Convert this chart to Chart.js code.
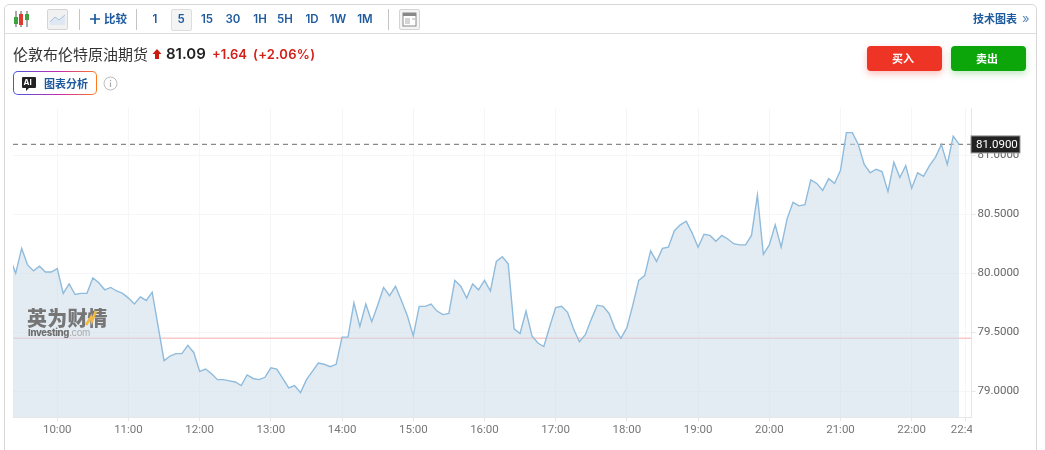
<!DOCTYPE html>
<html>
<head>
<meta charset="utf-8">
<title>伦敦布伦特原油期货</title>
<script src="https://cdn.jsdelivr.net/npm/chart.js"></script>
<style>
	html, body { margin: 0; padding: 0; background: #fff; overflow: hidden; }
	body { width: 1045px; height: 450px; position: relative; font-family: "Noto Sans CJK SC", Inter, sans-serif; }
	#chartBox { position: absolute; left: 0; top: 0; width: 1045px; height: 450px; }
	.panel { position: absolute; left: 4px; top: 4px; width: 1031px; height: 460px; border: 1px solid #d8d8d8; border-radius: 5px; pointer-events: none; }
	.abs { position: absolute; white-space: nowrap; }
	.sep { position: absolute; top: 9px; width: 1px; height: 21px; background: #c4c4c4; }
	.hline { position: absolute; left: 5px; top: 33px; width: 1031px; height: 1px; background: #dcdcdc; }
	.tf { position: absolute; top: 11px; font: 600 11.5px Inter, sans-serif; color: #1d5a9e; transform: translateX(-50%); line-height: 16px; }
	.tfbox { position: absolute; left: 171px; top: 9px; width: 19px; height: 20px; background: #f4f4f4; border: 1px solid #ddd; border-radius: 2px; }
	.iconbox { position: absolute; top: 9px; width: 19px; height: 19px; background: #f1f1f1; border: 1px solid #d4d4d4; border-radius: 2px; }
	.btn { position: absolute; top: 46px; width: 75px; height: 25px; box-sizing: border-box; padding-right: 3px; border-radius: 4px; color: #fff; font-size: 11px; font-weight: 700; text-align: center; line-height: 25px; }
	.ai { position: absolute; left: 13px; top: 71px; width: 84px; height: 24px; box-sizing: border-box; border-radius: 5px; padding: 1px; background: linear-gradient(90deg, #4a55e0, #c42bb0 55%, #ff7a1a); }
	.ai div { width: 100%; height: 100%; background: #fff; border-radius: 4px; }
</style>
</head>
<body>
<div id="chartBox"><canvas id="priceChart" width="1045" height="450"></canvas></div>

<div class="abs" style="left:27px;top:306px;font:900 20px/23px 'Noto Sans CJK SC';color:#6a6a6a;opacity:.9;letter-spacing:.2px;filter:blur(.4px)">英为财情</div>
<div class="abs" style="left:28px;top:327px;font:800 9.5px/11px Inter;color:#6e6e6e;letter-spacing:-.3px;filter:blur(.3px)">Investing<span style="font-weight:400;color:#aaa">.com</span></div>
<svg class="abs" style="left:84px;top:309px" width="14" height="18"><path d="M2 16 L7 8 L8 12 L12 2" fill="none" stroke="#f0b840" stroke-width="2.6"/></svg>

<div class="panel"></div>
<div class="hline"></div>

<svg class="abs" style="left:13px;top:9px" width="20" height="20">
	<path d="M3 2V18M8 2V18M14 2V18" stroke="#555" stroke-width="1"/>
	<rect x="1" y="8" width="4" height="7" fill="#3da33d"/>
	<rect x="6" y="5" width="4" height="11" fill="#e03a2e"/>
	<rect x="12" y="5" width="4" height="6" fill="#3da33d"/>
</svg>
<div class="iconbox" style="left:47px"><svg width="19" height="19"><path d="M2 15 L2 12 L7 7 L11 10 L17 5 L17 15Z" fill="#dfe8f2"/><path d="M2 12 L7 7 L11 10 L17 5" fill="none" stroke="#a9c4de" stroke-width="1"/></svg></div>
<div class="sep" style="left:79px"></div>
<svg class="abs" style="left:89px;top:13px" width="12" height="12"><path d="M6 1V11M1 6H11" stroke="#1d5a9e" stroke-width="1.7"/></svg>
<div class="abs" style="left:104px;top:10px;font-size:11.5px;font-weight:700;color:#1d5a9e;line-height:17px">比较</div>
<div class="sep" style="left:136px"></div>
<div class="tfbox"></div>
<div class="tf" style="left:155px">1</div>
<div class="tf" style="left:181px">5</div>
<div class="tf" style="left:207px">15</div>
<div class="tf" style="left:233px">30</div>
<div class="tf" style="left:260px">1H</div>
<div class="tf" style="left:285px">5H</div>
<div class="tf" style="left:312px">1D</div>
<div class="tf" style="left:338px">1W</div>
<div class="tf" style="left:365px">1M</div>
<div class="sep" style="left:388px"></div>
<div class="iconbox" style="left:399px;background:#f4f4f4"><svg width="19" height="19"><rect x="3" y="3" width="13" height="13" fill="#fff" stroke="#888"/><rect x="3" y="3" width="13" height="3" fill="#888"/><path d="M5 9H10M5 11H10M5 13H10M12 9H15" stroke="#aaa"/></svg></div>
<div class="abs" style="left:973px;top:10px;font-size:11px;font-weight:700;color:#1d5a9e;line-height:17px">技术图表</div>
<div class="abs" style="left:1022px;top:10px;font:13px/17px Inter;color:#5b8cc0">»</div>

<div class="abs" style="left:13px;top:44px;font-size:15px;line-height:19px;color:#333">伦敦布伦特原油期货</div>
<svg class="abs" style="left:152px;top:48px" width="10" height="12"><path d="M5 1 L9.5 6 H7 V11 H3 V6 H0.5Z" fill="#cc1c10"/></svg>
<div class="abs" style="left:166px;top:44px;font:600 15px/19px Inter;color:#222">81.09</div>
<div class="abs" style="left:212px;top:45px;font:600 13px/18px Inter;color:#d3211a">+1.64</div>
<div class="abs" style="left:253px;top:45px;font:600 13px/18px Inter;color:#d3211a;letter-spacing:.3px">(+2.06%)</div>

<div class="btn" style="left:867px;background:#ee3424;box-shadow:0 3px 7px rgba(238,52,36,.3)">买入</div>
<div class="btn" style="left:951px;background:#0ca50a;box-shadow:0 3px 7px rgba(12,165,10,.25)">卖出</div>

<div class="ai"><div></div></div>
<svg class="abs" style="left:21px;top:76px" width="16" height="16"><path d="M2 1H14Q15 1 15 2V11Q15 12 14 12H8L5 15V12H2Q1 12 1 11V2Q1 1 2 1Z" fill="#222"/></svg>
<div class="abs" style="left:23.5px;top:77px;font:700 8px/10px Inter;color:#fff">AI</div>
<div class="abs" style="left:44px;top:75px;font-size:11px;font-weight:700;color:#1d5a9e;line-height:16px">图表分析</div>
<svg class="abs" style="left:103px;top:76px" width="15" height="15"><circle cx="7.5" cy="7.5" r="6.5" fill="none" stroke="#bbb"/><path d="M7.5 6.5V11M7.5 4V5.2" stroke="#aaa" stroke-width="1.2"/></svg>

<script>
// 5 minute closes, 09:20 to 22:40
var startTime = '09:20';
var prices = [
	80.13, 80.00, 80.21, 80.07, 80.02, 80.06, 80.01, 80.01,
	80.04, 79.83, 79.91, 79.82, 79.83, 79.83, 79.96, 79.92, 79.86, 79.88, 79.85, 79.83,
	79.79, 79.74, 79.80, 79.77, 79.84, 79.55, 79.26, 79.30, 79.32, 79.32, 79.39, 79.33,
	79.17, 79.19, 79.15, 79.10, 79.10, 79.09, 79.08, 79.05, 79.14, 79.11, 79.10, 79.12,
	79.20, 79.19, 79.11, 79.03, 79.05, 78.99, 79.10, 79.17, 79.24, 79.23, 79.21, 79.23,
	79.46, 79.46, 79.75, 79.55, 79.74, 79.59, 79.73, 79.88, 79.81, 79.89, 79.77, 79.64,
	79.47, 79.72, 79.72, 79.74, 79.68, 79.65, 79.66, 79.94, 79.89, 79.79, 79.91, 79.86,
	79.94, 79.85, 80.10, 80.14, 80.08, 79.53, 79.49, 79.68, 79.47, 79.41, 79.38, 79.55,
	79.71, 79.72, 79.67, 79.53, 79.42, 79.48, 79.61, 79.73, 79.72, 79.66, 79.53, 79.45,
	79.54, 79.73, 79.94, 79.98, 80.19, 80.10, 80.21, 80.22, 80.36, 80.41, 80.44, 80.34,
	80.22, 80.33, 80.32, 80.27, 80.32, 80.29, 80.25, 80.24, 80.24, 80.32, 80.66, 80.16,
	80.24, 80.41, 80.22, 80.46, 80.60, 80.57, 80.58, 80.79, 80.76, 80.70, 80.80, 80.76,
	80.87, 81.19, 81.19, 81.09, 80.92, 80.85, 80.88, 80.86, 80.69, 80.94, 80.81, 80.91,
	80.72, 80.85, 80.82, 80.91, 80.98, 81.09, 80.92, 81.16, 81.09
];
var stepMinutes = 5;
var lastPrice = 81.09;
var prevClose = 79.45;
var xTickLabels = ['10:00','11:00','12:00','13:00','14:00','15:00','16:00','17:00','18:00','19:00','20:00','21:00','22:00','22:45'];
var yTickValues = [79, 79.5, 80, 80.5, 81];
var xRange = ['09:22.7', '22:50.4'];
var yRange = [78.784, 81.398];

function toMinutes(s) {
	var p = s.split(':');
	return parseInt(p[0]) * 60 + parseFloat(p[1]);
}
function toLabel(m) {
	var h = Math.floor(m / 60), n = m % 60;
	return (h < 10 ? '0' : '') + h + ':' + (n < 10 ? '0' : '') + n;
}

var xMin = toMinutes(xRange[0]), xMax = toMinutes(xRange[1]);
var start = toMinutes(startTime);
var pricePoints = prices.map(function(v, i) { return {x: start + i * stepMinutes, y: v}; });

// current price tag on the axis, and the cut off last time label
var axisExtras = {
	id: 'axisExtras',
	afterDraw: function(chart) {
		var c = chart.ctx, y = chart.scales.y.getPixelForValue(lastPrice);
		c.save();
		c.fillStyle = '#fff';
		c.fillRect(972, 419, 20, 22);
		c.fillStyle = '#222';
		c.strokeStyle = '#999';
		c.lineWidth = 1;
		c.fillRect(971, y - 8.5, 49, 17);
		c.strokeRect(971, y - 8.5, 49, 17);
		c.fillStyle = '#fff';
		c.font = '11.5px Roboto';
		c.textBaseline = 'middle';
		c.fillText(lastPrice.toFixed(4), 976, y + 0.5);
		c.restore();
	}
};

new Chart(document.getElementById('priceChart'), {
	type: 'line',
	data: {
		datasets: [
			{
				data: pricePoints,
				borderColor: '#8fbbdc',
				borderWidth: 1.4,
				backgroundColor: 'rgba(205,221,234,0.55)',
				fill: 'start',
				pointRadius: 0,
				tension: 0
			},
			{
				data: [{x: xMin, y: prevClose}, {x: xMax, y: prevClose}],
				borderColor: '#fbc9c9',
				borderWidth: 1.5,
				pointRadius: 0
			},
			{
				data: [{x: xMin, y: lastPrice}, {x: xMax, y: lastPrice}],
				borderColor: '#888',
				borderWidth: 1.2,
				borderDash: [5, 4],
				pointRadius: 0
			}
		]
	},
	plugins: [axisExtras],
	options: {
		responsive: false,
		animation: false,
		events: [],
		layout: {padding: {left: 13, top: 108, right: 13.5, bottom: 13}},
		plugins: {legend: {display: false}, title: {display: false}, tooltip: {enabled: false}},
		scales: {
			x: {
				type: 'linear',
				min: xMin,
				max: xMax,
				afterBuildTicks: function(s) {
					s.ticks = xTickLabels.map(function(l) { return {value: toMinutes(l)}; });
				},
				afterFit: function(s) { s.height = 20; },
				grid: {color: '#f5f6f7', lineWidth: 1, tickLength: 4, tickColor: '#e6e6e6'},
				border: {color: '#e6e6e6'},
				ticks: {
					autoSkip: false,
					maxRotation: 0,
					padding: 2,
					color: '#777',
					font: {family: 'Roboto', size: 11.5},
					callback: function(v) { return toLabel(v); }
				}
			},
			y: {
				position: 'right',
				min: yRange[0],
				max: yRange[1],
				afterBuildTicks: function(s) {
					s.ticks = yTickValues.map(function(v) { return {value: v}; });
				},
				afterFit: function(s) { s.width = 60; },
				grid: {color: '#f5f6f7', lineWidth: 1, tickLength: 4, tickColor: '#e6e6e6'},
				border: {color: '#e6e6e6'},
				ticks: {
					padding: 2,
					color: '#666',
					font: {family: 'Roboto', size: 11.5},
					callback: function(v) { return v.toFixed(4); }
				}
			}
		}
	}
});
</script>
</body>
</html>
